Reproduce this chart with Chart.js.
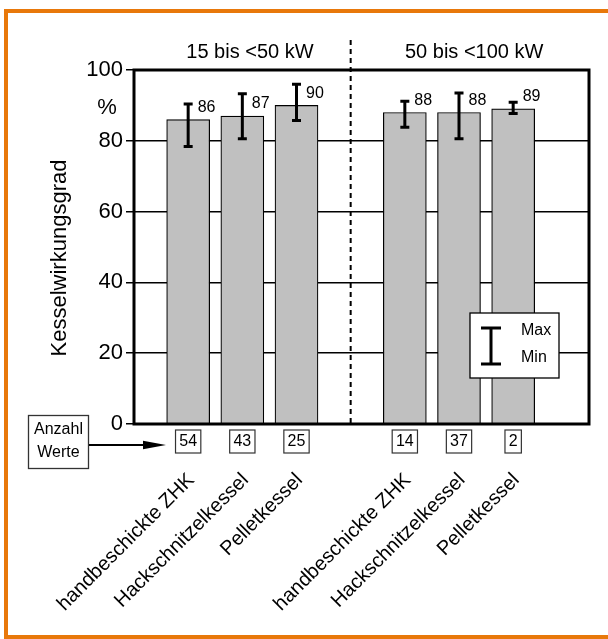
<!DOCTYPE html>
<html>
<head>
<meta charset="utf-8">
<script src="https://cdn.jsdelivr.net/npm/chart.js@4.4.1/dist/chart.umd.min.js"></script>
<style>
  html, body { margin: 0; padding: 0; background: #fff; }
  canvas { display: block; }
</style>
</head>
<body>
<canvas id="chart" width="608" height="639"></canvas>
<script>
// Boiler efficiency by boiler type and power class
const groups = ['15 bis <50 kW', '50 bis <100 kW'];
const categories = ['handbeschickte ZHK', 'Hackschnitzelkessel', 'Pelletkessel',
                    'handbeschickte ZHK', 'Hackschnitzelkessel', 'Pelletkessel'];
const slots = [1, 2, 3, 5, 6, 7];            // slot 4 is the gap between power classes
const efficiency = [86, 87, 90, 88, 88, 89];  // mean, %
const maxValues = [90.4, 93.3, 96.0, 91.2, 93.5, 90.9];
const minValues = [78.4, 80.6, 85.7, 83.8, 80.6, 87.7];
const counts = [54, 43, 25, 14, 37, 2];       // number of measurements
const yTicks = [0, 20, 40, 60, 80, 100];

const FONT = "'Liberation Sans', Arial, sans-serif";
const ORANGE = '#e8780a';

const decorations = {
  id: 'decorations',
  beforeDraw(chart) {
    const ctx = chart.ctx;
    ctx.save();
    ctx.fillStyle = '#fff';
    ctx.fillRect(0, 0, chart.width, chart.height);
    ctx.fillStyle = ORANGE;
    ctx.fillRect(4, 9, chart.width - 4, 4);
    ctx.fillRect(4, 9, 4, chart.height - 9);
    ctx.fillRect(4, chart.height - 4, chart.width - 4, 4);
    ctx.restore();
  },
  afterDatasetsDraw(chart) {
    const { ctx, chartArea: a, scales: { x, y } } = chart;
    ctx.save();

    // min/max whiskers and mean labels
    slots.forEach((s, i) => {
      const px = x.getPixelForValue(s);
      const top = y.getPixelForValue(maxValues[i]);
      const bot = y.getPixelForValue(minValues[i]);
      ctx.strokeStyle = '#000';
      ctx.lineWidth = 3;
      ctx.beginPath();
      ctx.moveTo(px, top); ctx.lineTo(px, bot);
      ctx.moveTo(px - 4.5, top); ctx.lineTo(px + 4.5, top);
      ctx.moveTo(px - 4.5, bot); ctx.lineTo(px + 4.5, bot);
      ctx.stroke();

      ctx.fillStyle = '#000';
      ctx.font = `16px ${FONT}`;
      ctx.textAlign = 'left';
      ctx.textBaseline = 'middle';
      ctx.fillText(String(efficiency[i]), px + 9.5, y.getPixelForValue(efficiency[i]) - 12);
    });

    // plot frame
    ctx.strokeStyle = '#000';
    ctx.lineWidth = 3;
    ctx.strokeRect(a.left, a.top, a.right - a.left, a.bottom - a.top);

    // divider between power classes
    const dx = x.getPixelForValue(4);
    ctx.lineWidth = 2;
    ctx.setLineDash([5, 4]);
    ctx.beginPath();
    ctx.moveTo(dx, 40);
    ctx.lineTo(dx, a.bottom);
    ctx.stroke();
    ctx.setLineDash([]);

    // power class headings
    ctx.fillStyle = '#000';
    ctx.font = `20px ${FONT}`;
    ctx.textAlign = 'center';
    ctx.textBaseline = 'middle';
    ctx.fillText(groups[0], x.getPixelForValue(2.14), 52);
    ctx.fillText(groups[1], x.getPixelForValue(6.28), 52);

    // whisker key
    const lx = a.right - 119, ly = 313;
    ctx.fillStyle = '#fff';
    ctx.fillRect(lx, ly, 89, 65);
    ctx.strokeStyle = '#000';
    ctx.lineWidth = 1.3;
    ctx.strokeRect(lx, ly, 89, 65);
    ctx.lineWidth = 3;
    ctx.beginPath();
    ctx.moveTo(lx + 21, ly + 15); ctx.lineTo(lx + 21, ly + 51);
    ctx.moveTo(lx + 11, ly + 15); ctx.lineTo(lx + 31, ly + 15);
    ctx.moveTo(lx + 11, ly + 51); ctx.lineTo(lx + 31, ly + 51);
    ctx.stroke();
    ctx.fillStyle = '#000';
    ctx.font = `16px ${FONT}`;
    ctx.textAlign = 'left';
    ctx.fillText('Max', lx + 51, ly + 18);
    ctx.fillText('Min', lx + 51, ly + 45);

    // sample counts under each bar
    slots.forEach((s, i) => {
      const px = x.getPixelForValue(s);
      const t = String(counts[i]);
      ctx.font = `16px ${FONT}`;
      const w = ctx.measureText(t).width + 7.5;
      ctx.strokeStyle = '#333';
      ctx.lineWidth = 1.2;
      ctx.strokeRect(px - w / 2, a.bottom + 6, w, 23);
      ctx.fillStyle = '#000';
      ctx.textAlign = 'center';
      ctx.textBaseline = 'middle';
      ctx.fillText(t, px, a.bottom + 18);
    });

    // boiler type labels
    slots.forEach((s, i) => {
      const px = x.getPixelForValue(s);
      ctx.save();
      ctx.translate(px - 4, a.bottom + 46);
      ctx.rotate(-Math.PI / 4);
      ctx.font = `20px ${FONT}`;
      ctx.fillStyle = '#000';
      ctx.textAlign = 'right';
      ctx.textBaseline = 'top';
      ctx.fillText(categories[i], 0, 0);
      ctx.restore();
    });

    // y axis title and unit
    ctx.save();
    ctx.translate(60, 258);
    ctx.rotate(-Math.PI / 2);
    ctx.font = `22px ${FONT}`;
    ctx.fillStyle = '#000';
    ctx.textAlign = 'center';
    ctx.textBaseline = 'middle';
    ctx.fillText('Kesselwirkungsgrad', 0, 0);
    ctx.restore();
    ctx.font = `22px ${FONT}`;
    ctx.textAlign = 'center';
    ctx.textBaseline = 'middle';
    ctx.fillText('%', 107, 108);

    // "Anzahl Werte" note with arrow
    ctx.strokeStyle = '#333';
    ctx.lineWidth = 1.3;
    ctx.strokeRect(28.5, 415.5, 60, 53);
    ctx.font = `16px ${FONT}`;
    ctx.fillStyle = '#000';
    ctx.fillText('Anzahl', 58.5, 430);
    ctx.fillText('Werte', 58.5, 453);
    ctx.strokeStyle = '#000';
    ctx.lineWidth = 2;
    ctx.beginPath();
    ctx.moveTo(89, 445);
    ctx.lineTo(145, 445);
    ctx.stroke();
    ctx.beginPath();
    ctx.moveTo(143, 440.7);
    ctx.lineTo(166, 445);
    ctx.lineTo(143, 449.3);
    ctx.closePath();
    ctx.fill();

    ctx.restore();
  }
};

new Chart(document.getElementById('chart'), {
  type: 'bar',
  data: {
    datasets: [{
      data: slots.map((s, i) => ({ x: s, y: efficiency[i] })),
      backgroundColor: '#c0c0c0',
      borderColor: '#000',
      borderWidth: 1.2,
      barThickness: 43
    }]
  },
  options: {
    responsive: false,
    animation: false,
    devicePixelRatio: 1,
    layout: { padding: { top: 70, right: 19, bottom: 215, left: 0 } },
    plugins: { legend: { display: false }, tooltip: { enabled: false } },
    scales: {
      x: {
        type: 'linear',
        min: 0,
        max: 8.4,
        offset: false,
        display: false
      },
      y: {
        min: 0,
        max: 100,
        afterBuildTicks: (axis) => { axis.ticks = yTicks.map(v => ({ value: v })); },
        afterFit: (axis) => { axis.width = 134; },
        ticks: {
          color: '#000',
          padding: 3,
          font: { family: FONT, size: 22 }
        },
        grid: {
          color: '#000',
          lineWidth: 1.5,
          tickLength: 8,
          drawTicks: true
        },
        border: { display: false }
      }
    }
  },
  plugins: [decorations]
});
</script>
</body>
</html>
